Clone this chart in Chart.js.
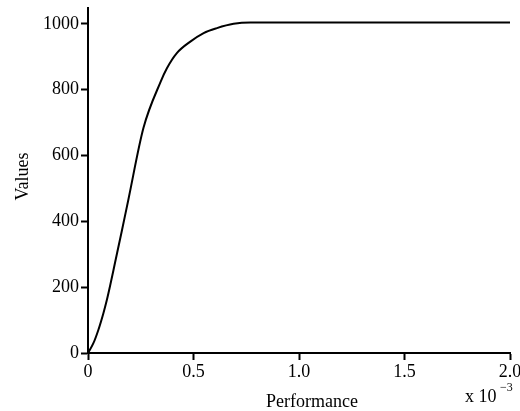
<!DOCTYPE html>
<html>
<head>
<meta charset="utf-8">
<script src="https://cdn.jsdelivr.net/npm/chart.js@4"></script>
<style>
  html, body { margin: 0; padding: 0; background: #fff; }
  #wrap { width: 520px; height: 411px; }
</style>
</head>
<body>
<div id="wrap"><canvas id="c" width="520" height="411"></canvas></div>
<script>
// Performance values, in units of 1e-3 (axis shows "x 10^-3")
const performanceE3 = [0, 0.025, 0.049, 0.073, 0.089, 0.105, 0.128, 0.160, 0.191, 0.263, 0.345, 0.374, 0.421, 0.485, 0.548, 0.611, 0.690, 0.770, 0.817, 2.0];
const values        = [0, 29, 70, 121, 160, 205, 274, 370, 465, 684, 825, 865, 911, 946, 972, 987, 1000, 1004, 1004, 1004];
const yTicks = [0, 200, 400, 600, 800, 1000];
const xTicks = [0, 0.5, 1.0, 1.5, 2.0];
const xTitle = "Performance";
const yTitle = "Values";
const xMultiplierBase = "x 10";
const xMultiplierExp = "\u22123";

const FONT = "'Liberation Serif', 'Times New Roman', serif";

const labelsPlugin = {
  id: 'labels',
  afterDraw(chart) {
    const ctx = chart.ctx;
    const a = chart.chartArea;
    ctx.save();
    ctx.fillStyle = '#000';
    ctx.font = '18px ' + FONT;
    ctx.textAlign = 'center';
    ctx.textBaseline = 'alphabetic';
    ctx.fillText(xTitle, a.left + (a.right - a.left) * 0.531, 407);
    ctx.textAlign = 'left';
    ctx.fillText(xMultiplierBase, 465, 402);
    ctx.font = '12px ' + FONT;
    ctx.fillText(xMultiplierExp, 500, 391);
    ctx.font = '18px ' + FONT;
    ctx.translate(27.5, (a.top + a.bottom) / 2 - 4);
    ctx.rotate(-Math.PI / 2);
    ctx.textAlign = 'center';
    ctx.fillText(yTitle, 0, 0);
    ctx.restore();
  }
};

new Chart(document.getElementById('c'), {
  type: 'line',
  data: {
    datasets: [{
      data: performanceE3.map((x, i) => ({ x: x, y: values[i] })),
      borderColor: '#000',
      borderWidth: 2,
      pointRadius: 0,
      cubicInterpolationMode: 'monotone',
      fill: false
    }]
  },
  options: {
    responsive: false,
    animation: false,
    devicePixelRatio: 1,
    layout: { padding: { left: 0, right: 10, top: 8, bottom: 0 } },
    plugins: { legend: { display: false }, tooltip: { enabled: false } },
    scales: {
      x: {
        type: 'linear',
        min: 0, max: 2.0,
        afterFit(s) { s.height = 58; s.paddingLeft = 0; s.paddingRight = 0; },
        afterBuildTicks(s) { s.ticks = xTicks.map(v => ({ value: v })); },
        ticks: {
          color: '#000',
          font: { family: FONT, size: 18 },
          padding: 1,
          maxRotation: 0,
          callback: v => v === 0 ? '0' : v.toFixed(1)
        },
        grid: { display: true, drawOnChartArea: false, drawTicks: true, tickLength: 7, tickWidth: 2, tickColor: '#000' },
        border: { display: true, color: '#000', width: 2 }
      },
      y: {
        type: 'linear',
        min: 0, max: 1048,
        afterFit(s) { s.width = 88; s.paddingTop = 0; s.paddingBottom = 0; },
        afterBuildTicks(s) { s.ticks = yTicks.map(v => ({ value: v })); },
        ticks: {
          color: '#000',
          font: { family: FONT, size: 18 },
          padding: 2,
          callback: v => String(v)
        },
        grid: { display: true, drawOnChartArea: false, drawTicks: true, tickLength: 7, tickWidth: 2, tickColor: '#000' },
        border: { display: true, color: '#000', width: 2 }
      }
    }
  },
  plugins: [labelsPlugin]
});
</script>
</body>
</html>
